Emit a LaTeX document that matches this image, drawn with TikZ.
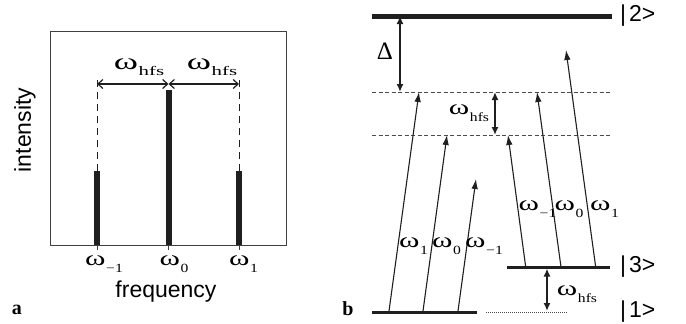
\documentclass[tikz,border=0pt]{standalone}
\usepackage{fontspec}
\usepackage{graphicx}
\setmainfont{Liberation Serif}
\setsansfont{Liberation Sans}
\usetikzlibrary{arrows.meta}
% omega with a lowered subscript (base size 20pt)
\newcommand\wl[1]{{\fontsize{20}{22}\selectfont\scalebox{1.55}[1.05]{ω}}\kern0.6pt\raisebox{-6.5pt}{\fontsize{12.5}{13}\selectfont\scalebox{1.25}[1]{#1}}}
% larger variant for the top labels of panel a
\newcommand\wlbig[1]{{\fontsize{21}{23}\selectfont\scalebox{1.75}[1.1]{ω}}\kern0.6pt\raisebox{-6.5pt}{\fontsize{13}{14}\selectfont\scalebox{1.6}[1]{#1}}}
\begin{document}
\begin{tikzpicture}[x=1pt,y=-1pt,
  ink/.style={black!88},
  bar/.style={ink,line width=6pt},
  guide/.style={ink,line width=1pt,dash pattern=on 7pt off 5pt},
  spanarrow/.style={ink,line width=1.2pt,{Straight Barb[length=5pt,width=9pt,line width=1.2pt]}-{Straight Barb[length=5pt,width=9pt,line width=1.2pt]}},
  level/.style={ink,line width=3pt},
  virt/.style={black!70,line width=0.8pt,dash pattern=on 4pt off 2.5pt},
  trans/.style={ink,line width=1.1pt,-{Latex[length=10pt,width=6.5pt]}},
  gap/.style={ink,line width=2.4pt,{Latex[length=8pt,width=7pt]}-{Latex[length=8pt,width=7pt]}},
  sflab/.style={font=\fontsize{23}{26}\sffamily,inner sep=0pt},
  ketlab/.style={font=\fontsize{23}{25}\sffamily,inner sep=0pt,anchor=west},
  wlab/.style={inner sep=0pt},
  panel/.style={font=\fontsize{20}{22}\bfseries,inner sep=0pt}
]
\useasboundingbox (0,0) rectangle (686,324);
% ---------- panel a ----------
\draw[black!75,line width=1pt] (50,31) rectangle (286,245);
\coordinate (bL) at (97,245);  \coordinate (tL) at (97,171);
\coordinate (bC) at (168.5,245); \coordinate (tC) at (168.5,90);
\coordinate (bR) at (239,245); \coordinate (tR) at (239,171);
\coordinate (dL) at (97,78); \coordinate (dR) at (239,78);
\coordinate (aL) at (97,84); \coordinate (aC) at (168.5,84); \coordinate (aR) at (239,84);
\draw[bar] (bL) -- (tL);
\draw[bar] (bC) -- (tC);
\draw[bar] (bR) -- (tR);
\draw[guide] (tL) -- (dL);
\draw[guide] (tR) -- (dR);
\draw[spanarrow] (aL) -- (aC);
\draw[spanarrow] (aC) -- (aR);
\foreach \p in {bL,bC,bR} \draw[black!75,line width=1pt] (\p) -- ++(0,5);
\node[wlab] (hfsA) at (139,67) {\wlbig{hfs}};
\node[wlab] (hfsB) at (212,67) {\wlbig{hfs}};
\node[wlab] (wm1) at (104,264) {\wl{−1}};
\node[wlab] (w0) at (174,264) {\wl{0}};
\node[wlab] (w1) at (243.5,264) {\wl{1}};
\node[sflab] (freq) at (166,292) {frequency};
\node[sflab,rotate=90] (inten) at (25,130) {intensity};
\node[panel] (pa) at (17,310) {a};
% ---------- panel b ----------
\coordinate (L2a) at (372,16); \coordinate (L2b) at (612,16);
\draw[ink,line width=5pt] (L2a) -- (L2b);
\node[ketlab] (k2) at (620,16) {|\kern3pt2>};
\coordinate (V1a) at (372,92); \coordinate (V1b) at (612,92);
\coordinate (V2a) at (372,135); \coordinate (V2b) at (612,135);
\draw[virt] (V1a) -- (V1b);
\draw[virt] (V2a) -- (V2b);
\coordinate (D1) at (400,16); \coordinate (D2) at (400,92);
\draw[gap] (D1) -- (D2);
\node[font=\fontsize{25}{27}\selectfont,inner sep=0pt] (delta) at (385,51) {Δ};
\coordinate (H1) at (495,92); \coordinate (H2) at (495,135);
\draw[gap] (H1) -- (H2);
\node[wlab] (hfsC) at (469,113) {\wl{hfs}};
% ground levels
\coordinate (L1a) at (372,312); \coordinate (L1b) at (477,312);
\coordinate (L1c) at (486,312); \coordinate (L1d) at (568,312);
\coordinate (L3a) at (507,267); \coordinate (L3b) at (610,267);
\draw[level] (L1a) -- (L1b);
\draw[black!70,line width=0.8pt,dash pattern=on 1pt off 1pt] (L1c) -- (L1d);
\draw[level] (L3a) -- (L3b);
\node[ketlab] (k3) at (620,267) {|\kern3pt3>};
\node[ketlab] (k1) at (620,312) {|\kern3pt1>};
\coordinate (G1) at (547,268.5); \coordinate (G2) at (547,311);
\draw[gap] (G1) -- (G2);
\node[wlab] (hfsD) at (577,294) {\wl{hfs}};
% transitions from |1>
\coordinate (s1) at (389,311); \coordinate (e1) at (419,92);
\coordinate (s2) at (423,311); \coordinate (e2) at (447,135);
\coordinate (s3) at (458,311); \coordinate (e3) at (476,179);
\draw[trans] (s1) -- (e1);
\draw[trans] (s2) -- (e2);
\draw[trans] (s3) -- (e3);
% transitions from |3>
\coordinate (r1) at (525.7,267); \coordinate (f1) at (508,135);
\coordinate (r2) at (561,267); \coordinate (f2) at (537,92);
\coordinate (r3) at (595.7,267); \coordinate (f3) at (566,50);
\draw[trans] (r1) -- (f1);
\draw[trans] (r2) -- (f2);
\draw[trans] (r3) -- (f3);
\node[wlab] (t1) at (413.5,246) {\wl{1}};
\node[wlab] (t2) at (446.5,246) {\wl{0}};
\node[wlab] (t3) at (484,246) {\wl{−1}};
\node[wlab] (u1) at (537.5,209) {\wl{−1}};
\node[wlab] (u2) at (569,209) {\wl{0}};
\node[wlab] (u3) at (604.5,209) {\wl{1}};
\node[panel] (pb) at (348,309) {b};
\end{tikzpicture}
\end{document}
